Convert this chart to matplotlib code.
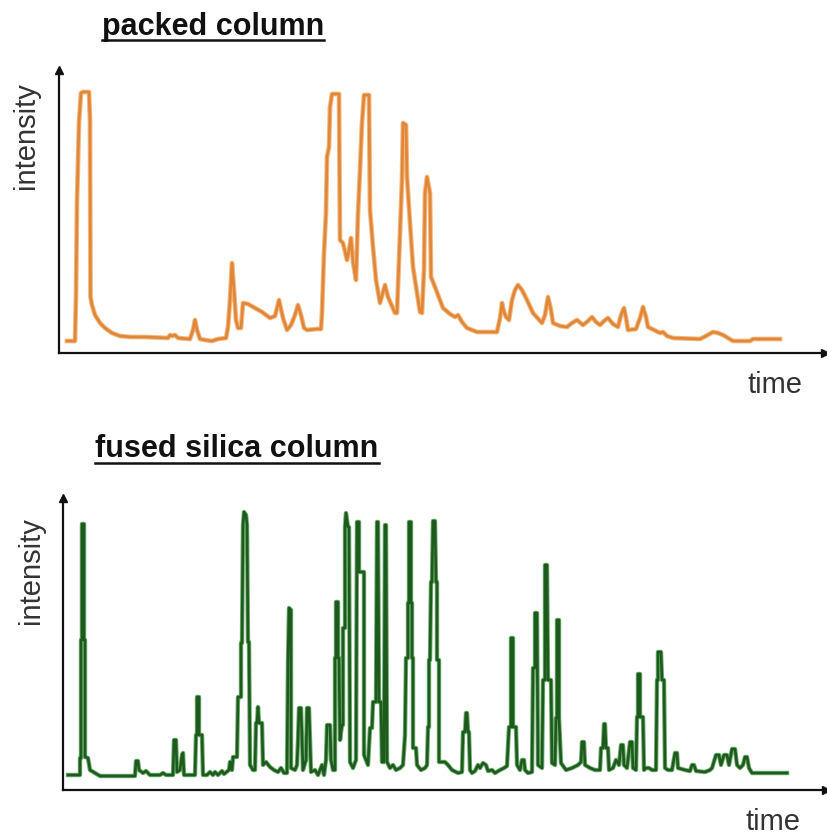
import matplotlib
matplotlib.use("Agg")
import matplotlib.pyplot as plt
from matplotlib.lines import Line2D

W, H = 827, 838  # output size in pixels

# packed column trace: (time, intensity)
packed_trace = [
    (8, 12), (16, 12), (17, 57), (18, 151), (20, 231), (22, 260), (24, 261), (30, 261),
    (31, 233), (31.5, 56), (33, 48), (36, 38), (41, 30), (46, 25), (53, 20), (61, 17),
    (71, 16), (86, 16), (109, 15), (111, 18), (113, 17), (116, 18), (119, 15), (131, 14),
    (134, 23), (136, 33), (138, 23), (141, 14), (146, 13), (153, 12), (159, 14), (167, 15),
    (169, 26), (171, 53), (173, 90), (175, 63), (177, 33), (179, 25), (182, 25), (184, 50),
    (189, 49), (196, 45), (203, 41), (211, 35), (216, 37), (220, 53), (224, 35), (228, 23),
    (232, 28), (236, 38), (239, 48), (242, 38), (245, 25), (248, 23), (258, 24), (262, 24),
    (263, 40), (265, 100), (267, 140), (268, 196), (270, 206), (271, 246), (273, 259),
    (280, 259), (281, 113), (284, 110), (288, 93), (290, 103), (292, 115), (294, 91),
    (297, 73), (299, 140), (301, 183), (303, 230), (305, 258), (310, 258), (311, 143),
    (314, 106), (317, 73), (321, 50), (326, 68), (329, 56), (336, 40), (338, 40), (343, 173),
    (344, 230), (347, 228), (348, 176), (351, 130), (354, 86), (361, 41), (363, 40),
    (365, 83), (366, 160), (368, 176), (371, 160), (372, 76), (376, 66), (379, 58), (384, 45),
    (391, 39), (396, 36), (399, 38), (403, 31), (408, 25), (418, 21), (438, 21), (441, 35),
    (443, 50), (445, 41), (447, 36), (450, 33), (453, 53), (456, 63), (459, 68), (463, 63),
    (468, 53), (474, 40), (483, 30), (486, 38), (489, 56), (492, 43), (494, 30), (501, 27),
    (508, 26), (513, 30), (518, 33), (524, 28), (529, 32), (533, 36), (537, 31), (541, 28),
    (545, 32), (549, 35), (554, 29), (559, 26), (562, 38), (565, 45), (567, 35), (569, 23),
    (577, 24), (581, 35), (584, 46), (587, 36), (589, 26), (595, 23), (601, 20), (604, 21),
    (608, 17), (614, 15), (641, 14), (647, 17), (654, 21), (659, 20), (664, 18), (669, 15),
    (674, 12), (691, 12), (694, 14), (721, 14),
]

# fused silica column trace: (time, intensity)
fused_trace = [
    (5, 15), (17, 15), (17, 32), (18, 32), (18, 150), (19, 150), (19, 266), (21, 266),
    (21, 150), (22, 150), (22, 33), (25, 32), (27, 20), (32, 17), (37, 14), (72, 14),
    (73, 29), (75, 29), (76, 20), (80, 17), (83, 19), (87, 15), (97, 15), (100, 17),
    (103, 15), (110, 15), (111, 50), (113, 50), (114, 18), (117, 20), (119, 35), (120, 37),
    (121, 15), (132, 15), (133, 55), (134, 55), (134, 93), (136, 93), (136, 55), (139, 55),
    (140, 15), (144, 15), (147, 18), (150, 15), (152, 18), (155, 15), (159, 19), (161, 16),
    (166, 20), (167, 28), (169, 20), (170, 33), (174, 33), (175, 93), (178, 93), (178, 147),
    (179, 147), (180, 265), (181, 278), (183, 275), (184, 265), (185, 148), (186, 148),
    (187, 25), (190, 20), (192, 20), (193, 67), (194, 67), (195, 83), (196, 67), (199, 67),
    (200, 25), (203, 28), (207, 23), (211, 20), (215, 18), (218, 22), (221, 17), (224, 17),
    (225, 128), (226, 182), (228, 180), (228, 22), (232, 20), (234, 25), (235, 50),
    (236, 82), (238, 82), (239, 50), (240, 20), (243, 30), (244, 82), (246, 82), (247, 50),
    (248, 18), (252, 20), (255, 15), (257, 20), (259, 25), (261, 15), (263, 30), (264, 65),
    (267, 65), (268, 30), (270, 20), (272, 20), (272, 132), (273, 132), (273, 188),
    (275, 188), (275, 132), (276, 132), (277, 50), (279, 65), (280, 65), (280, 162),
    (282, 162), (282, 263), (283, 277), (285, 263), (286, 263), (287, 28), (290, 22),
    (293, 30), (294, 268), (296, 268), (296, 218), (301, 218), (301, 35), (305, 25),
    (307, 62), (309, 62), (310, 88), (313, 88), (314, 268), (315, 268), (316, 88),
    (318, 88), (319, 28), (321, 28), (322, 265), (323, 265), (324, 28), (327, 22), (330, 25),
    (333, 20), (337, 22), (340, 25), (342, 55), (343, 132), (345, 132), (345, 187),
    (346, 187), (346, 268), (348, 268), (348, 187), (349, 187), (349, 132), (350, 132),
    (350, 42), (353, 42), (354, 25), (358, 20), (362, 22), (364, 25), (365, 63), (366, 63),
    (366, 130), (367, 130), (368, 208), (369, 208), (370, 269), (372, 269), (373, 208),
    (374, 208), (374, 130), (376, 130), (376, 28), (382, 28), (385, 25), (389, 20),
    (395, 17), (399, 18), (400, 58), (402, 58), (403, 77), (404, 77), (405, 58), (406, 58),
    (407, 20), (409, 17), (412, 19), (415, 25), (417, 22), (420, 27), (423, 25), (425, 19),
    (429, 20), (432, 17), (437, 20), (441, 22), (444, 24), (446, 63), (448, 63), (448, 152),
    (450, 152), (450, 63), (453, 63), (454, 25), (457, 20), (459, 30), (461, 30), (462, 20),
    (465, 17), (469, 18), (470, 122), (472, 122), (472, 177), (474, 177), (475, 25),
    (479, 22), (480, 110), (482, 110), (482, 225), (484, 225), (485, 110), (488, 110),
    (489, 27), (492, 25), (493, 72), (494, 72), (494, 170), (496, 170), (496, 72), (498, 27),
    (503, 20), (509, 22), (515, 25), (518, 28), (519, 48), (521, 48), (522, 25), (527, 22),
    (532, 20), (537, 20), (538, 42), (540, 42), (541, 66), (542, 66), (543, 42), (545, 42),
    (546, 20), (550, 22), (553, 30), (556, 25), (558, 45), (560, 45), (561, 25), (564, 22),
    (567, 48), (569, 48), (570, 22), (573, 20), (574, 73), (575, 73), (575, 116), (577, 116),
    (577, 73), (580, 73), (581, 20), (583, 22), (586, 22), (589, 20), (593, 20), (594, 110),
    (595, 110), (595, 138), (598, 138), (599, 110), (601, 110), (602, 22), (605, 20),
    (609, 20), (612, 37), (614, 37), (615, 22), (622, 20), (627, 19), (629, 25), (631, 25),
    (633, 19), (642, 18), (647, 20), (649, 22), (653, 35), (656, 35), (658, 25), (661, 35),
    (664, 35), (666, 25), (669, 41), (672, 41), (674, 25), (677, 22), (680, 25), (682, 33),
    (684, 33), (686, 22), (689, 17), (724, 17),
]

titles = ["packed column", "fused silica column"]
x_label = "time"
y_label = "intensity"

plt.rcParams["font.family"] = ["Liberation Sans", "DejaVu Sans"]


def px_rect(left, top, right, bottom):
    # pixel box (origin top-left) -> figure fraction rect
    return [left / W, 1 - bottom / H, (right - left) / W, (bottom - top) / H]


def fx(x):
    return x / W


def fy(y):
    return 1 - y / H


fig = plt.figure(figsize=(W / 100, H / 100), dpi=100)
fig.patch.set_facecolor("white")

ax_top = fig.add_axes(px_rect(59, 70, 825, 353))
ax_bot = fig.add_axes(px_rect(63, 498, 826, 790))


def style_axes(ax, xmax, ymax):
    ax.set_xlim(0, xmax)
    ax.set_ylim(0, ymax)
    ax.patch.set_visible(False)
    for side in ["top", "right"]:
        ax.spines[side].set_visible(False)
    for side in ["left", "bottom"]:
        ax.spines[side].set_linewidth(1.6)
        ax.spines[side].set_color("#111111")
    ax.set_xticks([])
    ax.set_yticks([])
    ax.plot(1, 0, ">", color="#111111", ms=6, transform=ax.transAxes, clip_on=False)
    ax.plot(0, 1, "^", color="#111111", ms=6, transform=ax.transAxes, clip_on=False)


style_axes(ax_top, 766, 283)
style_axes(ax_bot, 763, 292)

t, i = zip(*packed_trace)
ax_top.plot(t, i, color="#f6b77c", lw=3.4, solid_joinstyle="round")
ax_top.plot(t, i, color="#df8639", lw=1.9, solid_joinstyle="round")

t, i = zip(*fused_trace)
ax_bot.plot(t, i, color="#4f9a4f", lw=3.2, solid_joinstyle="round", alpha=0.8)
ax_bot.plot(t, i, color="#1d5b1d", lw=1.9, solid_joinstyle="round")

# bold underlined titles
title_texts = [
    fig.text(fx(213), fy(35), titles[0], ha="center", va="baseline",
             fontsize=22, fontweight="bold", color="#111111"),
    fig.text(fx(237), fy(457), titles[1], ha="center", va="baseline",
             fontsize=22, fontweight="bold", color="#111111"),
]
underline_y = [40.5, 463]

# axis labels
for cx, cy in [(26, 136), (31, 571)]:
    fig.text(fx(cx), fy(cy), y_label, rotation=90, ha="center", va="center",
             fontsize=21, color="#333333")
for lx, ly in [(747, 393), (745, 830)]:
    fig.text(fx(lx), fy(ly), x_label, ha="left", va="baseline",
             fontsize=21, color="#333333")

fig.canvas.draw()
renderer = fig.canvas.get_renderer()
for txt, uy in zip(title_texts, underline_y):
    bb = txt.get_window_extent(renderer)
    fig.add_artist(Line2D([fx(bb.x0), fx(bb.x1)], [fy(uy), fy(uy)],
                          transform=fig.transFigure, color="#111111", lw=1.8))

fig.savefig("out.png", dpi=100, facecolor="white")
